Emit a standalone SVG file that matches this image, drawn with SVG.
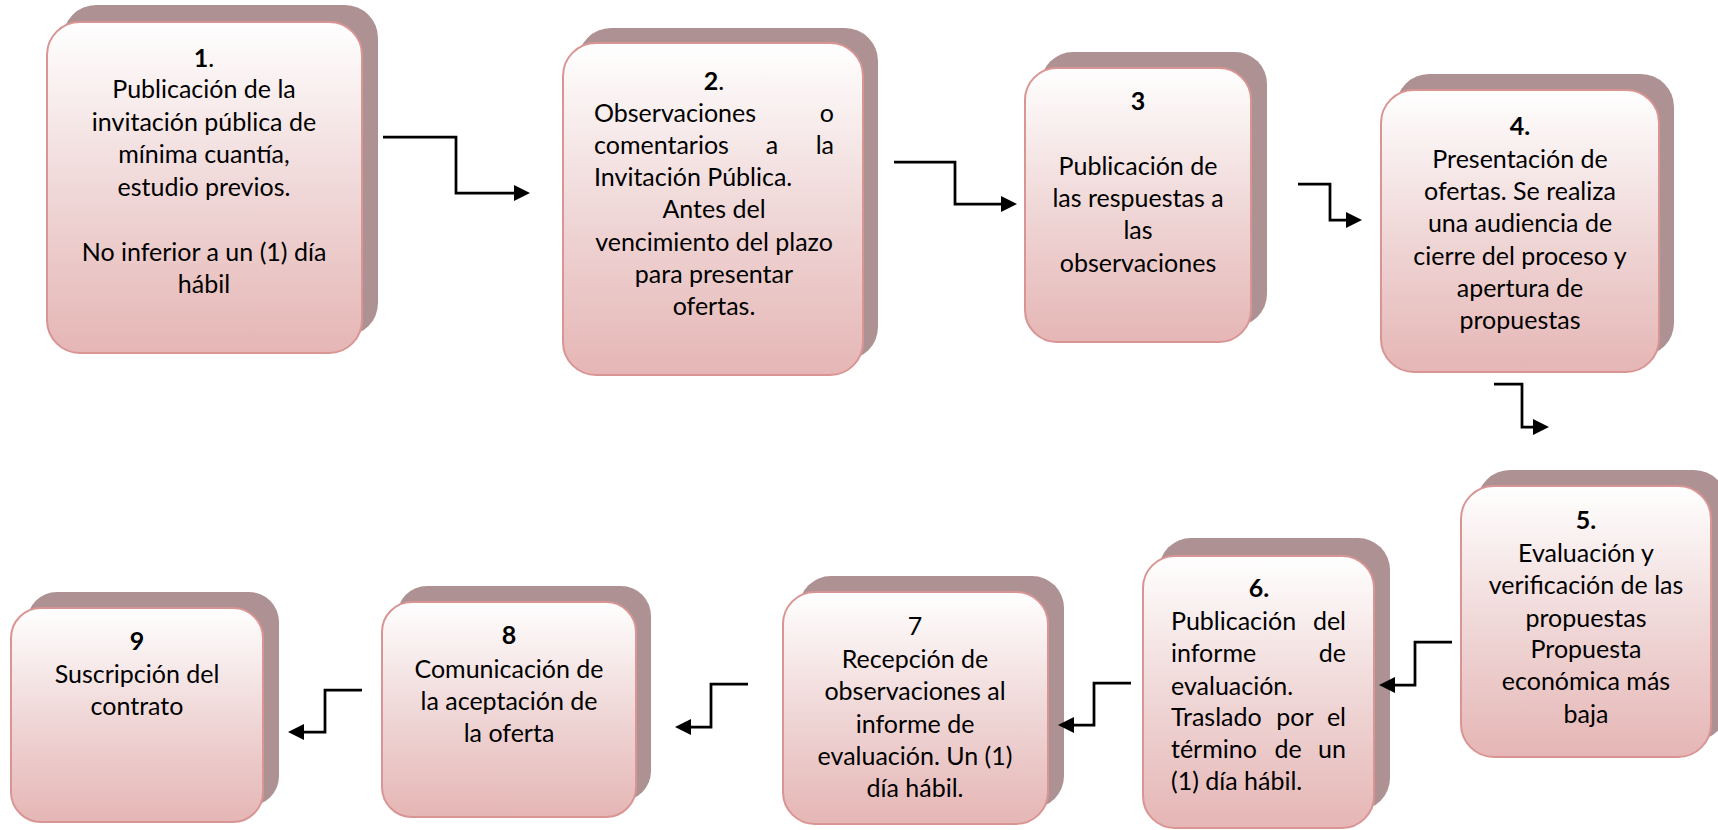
<svg xmlns="http://www.w3.org/2000/svg" width="1718" height="830" viewBox="0 0 1718 830">
<defs>
<linearGradient id="g" x1="0" y1="0" x2="0" y2="1">
<stop offset="0" stop-color="#ffffff"/>
<stop offset="0.5" stop-color="#f0d8d8"/>
<stop offset="1" stop-color="#e5b6b5"/>
</linearGradient>
<marker id="arr" markerUnits="userSpaceOnUse" markerWidth="16" markerHeight="16" refX="4" refY="8" orient="auto">
<path d="M0,0 L16,8 L0,16 z" fill="#000"/>
</marker>
<style>
.sh{fill:#ae9192}
.fr{fill:url(#g);stroke:#d99594;stroke-width:2}
text{font-family:Lato,"Liberation Sans",sans-serif;font-size:25px;fill:#000;text-anchor:middle}
.l{text-anchor:start}
.r{text-anchor:end}
.b{font-weight:bold}
.c{fill:none;stroke:#000;stroke-width:2.75;marker-end:url(#arr)}
</style>
</defs>
<rect width="1718" height="830" fill="#fff"/>
<g id="node1">
<rect class="sh" x="63" y="5" width="315" height="331" rx="33"/>
<rect class="fr" x="47" y="22" width="315" height="331" rx="33"/>
<text x="204" y="67"><tspan class="b">1</tspan>.</text>
<text x="204" y="98">Publicación de la</text>
<text x="204" y="130.5">invitación pública de</text>
<text x="204" y="163">mínima cuantía,</text>
<text x="204" y="195.5">estudio previos.</text>
<text x="204" y="260.5">No inferior a un (1) día</text>
<text x="204" y="293">hábil</text>
</g>
<g id="node2">
<rect class="sh" x="578" y="28" width="300" height="332" rx="33"/>
<rect class="fr" x="563" y="43" width="300" height="332" rx="33"/>
<text x="714" y="90"><tspan class="b">2</tspan>.</text>
<text class="l" x="594" y="122">Observaciones</text>
<text class="r" x="834" y="122">o</text>
<text class="l" x="594" y="154">comentarios</text>
<text x="772" y="154">a</text>
<text class="r" x="834" y="154">la</text>
<text class="l" x="594" y="186">Invitación Pública.</text>
<text x="714" y="218">Antes del</text>
<text x="714" y="251">vencimiento del plazo</text>
<text x="714" y="283">para presentar</text>
<text x="714" y="315">ofertas.</text>
</g>
<g id="node3">
<rect class="sh" x="1041" y="52" width="226" height="274" rx="32"/>
<rect class="fr" x="1025" y="68" width="226" height="274" rx="32"/>
<text class="b" x="1138" y="110">3</text>
<text x="1138" y="175">Publicación de</text>
<text x="1138" y="207">las respuestas a</text>
<text x="1138" y="239">las</text>
<text x="1138" y="272">observaciones</text>
</g>
<g id="node4">
<rect class="sh" x="1396" y="74" width="278" height="282" rx="33"/>
<rect class="fr" x="1381" y="90" width="278" height="282" rx="33"/>
<text class="b" x="1520" y="135">4.</text>
<text x="1520" y="167.5">Presentación de</text>
<text x="1520" y="200">ofertas. Se realiza</text>
<text x="1520" y="232">una audiencia de</text>
<text x="1520" y="264.5">cierre del proceso y</text>
<text x="1520" y="297">apertura de</text>
<text x="1520" y="329">propuestas</text>
</g>
<g id="node5">
<rect class="sh" x="1477" y="470" width="250" height="271" rx="33"/>
<rect class="fr" x="1461" y="486" width="250" height="271" rx="33"/>
<text class="b" x="1586" y="529">5.</text>
<text x="1586" y="562">Evaluación y</text>
<text x="1586" y="594">verificación de las</text>
<text x="1586" y="627">propuestas</text>
<text x="1586" y="658">Propuesta</text>
<text x="1586" y="690">económica más</text>
<text x="1586" y="723">baja</text>
</g>
<g id="node6">
<rect class="sh" x="1159" y="538" width="231" height="272" rx="32"/>
<rect class="fr" x="1143" y="556" width="231" height="272" rx="32"/>
<text class="b" x="1259" y="597">6.</text>
<text class="l" x="1171" y="630">Publicación</text>
<text class="r" x="1346" y="630">del</text>
<text class="l" x="1171" y="662">informe</text>
<text class="r" x="1346" y="662">de</text>
<text class="l" x="1171" y="695">evaluación.</text>
<text class="l" x="1171" y="726">Traslado</text>
<text x="1295" y="726">por</text>
<text class="r" x="1346" y="726">el</text>
<text class="l" x="1171" y="758">término</text>
<text x="1288" y="758">de</text>
<text class="r" x="1346" y="758">un</text>
<text class="l" x="1171" y="790">(1) día hábil.</text>
</g>
<g id="node7">
<rect class="sh" x="799" y="576" width="265" height="232" rx="32"/>
<rect class="fr" x="783" y="592" width="265" height="232" rx="32"/>
<text x="915" y="635">7</text>
<text x="915" y="668">Recepción de</text>
<text x="915" y="700">observaciones al</text>
<text x="915" y="733">informe de</text>
<text x="915" y="765">evaluación. Un (1)</text>
<text x="915" y="797">día hábil.</text>
</g>
<g id="node8">
<rect class="sh" x="397" y="586" width="254" height="215" rx="30"/>
<rect class="fr" x="382" y="602" width="254" height="215" rx="30"/>
<text class="b" x="509" y="644">8</text>
<text x="509" y="678">Comunicación de</text>
<text x="509" y="710">la aceptación de</text>
<text x="509" y="742">la oferta</text>
</g>
<g id="node9">
<rect class="sh" x="27" y="592" width="252" height="214" rx="30"/>
<rect class="fr" x="11" y="608" width="252" height="214" rx="30"/>
<text class="b" x="137" y="650">9</text>
<text x="137" y="683">Suscripción del</text>
<text x="137" y="715">contrato</text>
</g>
<g id="connectors">
<polyline class="c" points="383,137 456,137 456,193 518,193"/>
<polyline class="c" points="894,162 955,162 955,204 1005,204"/>
<polyline class="c" points="1298,184 1330,184 1330,220 1350,220"/>
<polyline class="c" points="1494,384 1522,384 1522,427 1537,427"/>
<polyline class="c" points="1452,642 1415,642 1415,685 1391,685"/>
<polyline class="c" points="1131,683 1094,683 1094,725 1070,725"/>
<polyline class="c" points="748,684 711,684 711,727 687,727"/>
<polyline class="c" points="362,690 325,690 325,732 300,732"/>
</g>
</svg>
